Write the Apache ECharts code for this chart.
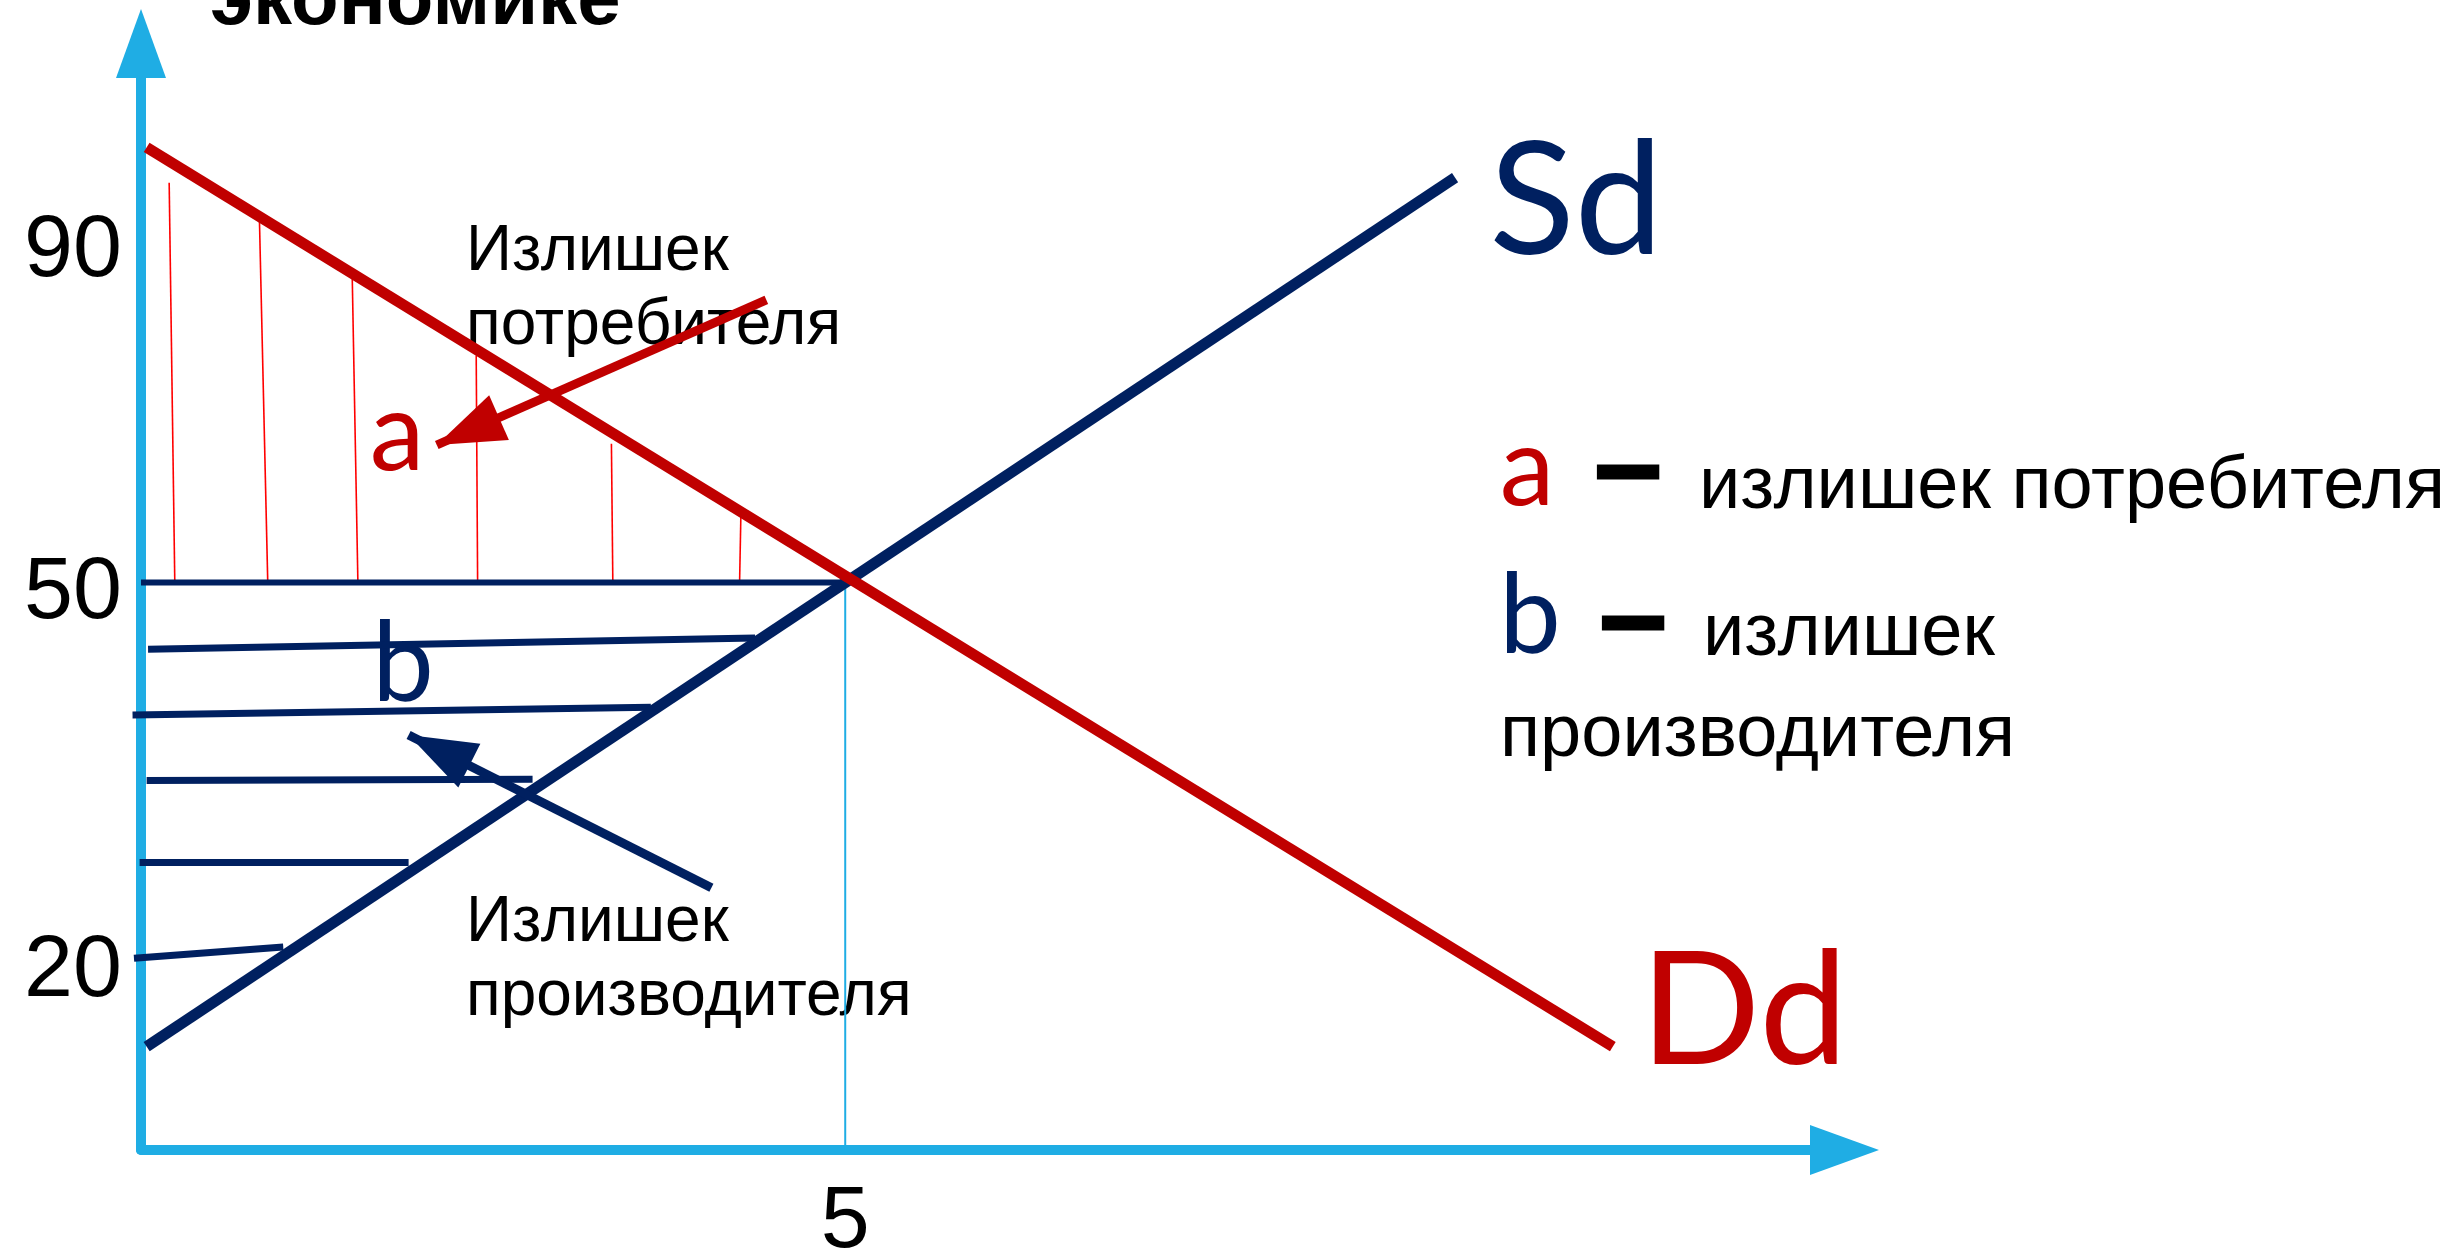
<!DOCTYPE html>
<html lang="ru">
<head>
<meta charset="utf-8">
<title>Излишек потребителя и производителя</title>
<script src="https://cdn.jsdelivr.net/npm/echarts@6/dist/echarts.min.js"></script>
<style>
  html, body { margin: 0; padding: 0; background: #ffffff; }
  #chart { width: 2455px; height: 1256px; }
</style>
</head>
<body>
<div id="chart"></div>
<script>
// values (x = quantity, y = price as drawn)
const xRange = [0, 11.85];
const yRange = [5, 90];
const xTickValues = [5];
const xTickLabels = ['5'];
const yTickValues = [20, 50, 77.1];
const yTickLabels = ['20', '50', '90'];

const demandPoints = [[0.04, 84.5], [10.45, 13.2]];
const supplyPoints = [[0.04, 13.2], [9.33, 82.1]];
const equilibrium = [5, 50];

// thin red strokes of the consumer surplus (bottom on the price line, top under the demand line)
const consumerHatchBottom = [[0.24, 50], [0.90, 50], [1.54, 50], [2.39, 50], [3.35, 50], [4.25, 50]];
const consumerHatchTop = [[0.20, 81.7], [0.84, 79.2], [1.50, 74.1], [2.38, 68.0], [3.34, 61.0], [4.26, 55.8]];

// navy strokes of the producer surplus
const producerHatchLeft = [[0.05, 44.7], [-0.06, 39.5], [0.04, 34.3], [-0.01, 27.8], [-0.05, 20.2]];
const producerHatchRight = [[4.36, 45.6], [3.62, 40.1], [2.78, 34.4], [1.90, 27.8], [1.01, 21.1]];

// pointer arrows: [start, tip]
const consumerArrow = [[4.44, 72.4], [2.10, 60.9]];
const producerArrow = [[4.05, 25.8], [1.90, 37.9]];

const RED = '#C00000';
const NAVY = '#002060';
const AXIS = '#1FADE4';
const HATCH_RED = '#FF0000';
const ARROW_SIZE = [49, 68];

const chart = echarts.init(document.getElementById('chart'));

const axisArrow = {
  show: true,
  onZero: false,
  symbol: ['none', 'triangle'],
  symbolSize: [50, 69],
  symbolOffset: [0, 34.5],
  lineStyle: { color: AXIS, width: 10 }
};

// arrow drawn as a markLine; the head sits with its tip on the end point
const pointer = (points, color) => ({
  type: 'line',
  data: [],
  silent: true,
  markLine: {
    silent: true,
    animation: false,
    symbol: ['none', 'triangle'],
    symbolSize: ARROW_SIZE,
    label: { show: false },
    lineStyle: { color: color, width: 9, type: 'solid' },
    itemStyle: { color: color },
    data: [[
      { coord: points[0] },
      { coord: points[1], symbolOffset: [0, ARROW_SIZE[1] / 2] }
    ]]
  },
  z: 6
});

const option = {
  animation: false,
  backgroundColor: '#ffffff',
  grid: { left: 141, right: 645, top: 78, bottom: 106, containLabel: false, outerBoundsMode: 'none' },
  xAxis: {
    type: 'value',
    min: xRange[0],
    max: xRange[1],
    axisLine: axisArrow,
    axisTick: { show: false },
    splitLine: { show: false },
    axisLabel: {
      customValues: xTickValues,
      formatter: (v) => xTickLabels[xTickValues.indexOf(v)] || '',
      margin: 29,
      fontSize: 88,
      fontFamily: 'Liberation Sans',
      color: '#000000'
    }
  },
  yAxis: {
    type: 'value',
    min: yRange[0],
    max: yRange[1],
    axisLine: axisArrow,
    axisTick: { show: false },
    splitLine: { show: false },
    axisLabel: {
      customValues: yTickValues,
      formatter: (v) => yTickLabels[yTickValues.indexOf(v)] || '',
      margin: 19,
      verticalAlign: 'top',
      lineHeight: 22,
      fontSize: 88,
      fontFamily: 'Liberation Sans',
      color: '#000000'
    }
  },
  series: [
    {
      type: 'lines',
      coordinateSystem: 'cartesian2d',
      clip: false,
      silent: true,
      lineStyle: { color: HATCH_RED, width: 1.6, opacity: 1, curveness: 0 },
      data: consumerHatchBottom.map((p, i) => ({ coords: [p, consumerHatchTop[i]] })),
      z: 2
    },
    {
      type: 'lines',
      coordinateSystem: 'cartesian2d',
      clip: false,
      silent: true,
      lineStyle: { color: NAVY, width: 7, opacity: 1, curveness: 0 },
      data: producerHatchLeft.map((p, i) => ({ coords: [p, producerHatchRight[i]] })),
      z: 2
    },
    {
      type: 'line',
      data: [[xRange[0], equilibrium[1]], equilibrium],
      symbol: 'none',
      silent: true,
      lineStyle: { color: NAVY, width: 6 },
      z: 3
    },
    {
      type: 'line',
      data: [[equilibrium[0], yRange[0]], equilibrium],
      symbol: 'none',
      silent: true,
      lineStyle: { color: AXIS, width: 2 },
      z: 3
    },
    {
      name: 'Sd',
      type: 'line',
      data: supplyPoints,
      symbol: 'none',
      silent: true,
      lineStyle: { color: NAVY, width: 11 },
      z: 4
    },
    {
      name: 'Dd',
      type: 'line',
      data: demandPoints,
      symbol: 'none',
      silent: true,
      lineStyle: { color: RED, width: 11 },
      z: 5
    },
    pointer(consumerArrow, RED),
    pointer(producerArrow, NAVY)
  ],
  graphic: {
    elements: [
      { type: 'text', x: 210, y: 2, silent: true,
        style: { text: 'экономике', fill: '#000', font: 'bold 78px "Liberation Sans"', textVerticalAlign: 'middle' } },
      { type: 'text', x: 1576, y: 203, silent: true,
        style: { text: 'Sd', fill: NAVY, font: '158px Lato', textAlign: 'center', textVerticalAlign: 'middle' } },
      { type: 'text', x: 1744, y: 1013, silent: true,
        style: { text: 'Dd', fill: RED, font: '158px Lato', textAlign: 'center', textVerticalAlign: 'middle' } },
      { type: 'text', x: 466, y: 289, silent: true,
        style: { text: 'Излишек\nпотребителя', fill: '#000', font: '64px "Liberation Sans"', lineHeight: 74, textVerticalAlign: 'middle' } },
      { type: 'text', x: 466, y: 960, silent: true,
        style: { text: 'Излишек\nпроизводителя', fill: '#000', font: '64px "Liberation Sans"', lineHeight: 74, textVerticalAlign: 'middle' } },
      { type: 'text', x: 397, y: 435, silent: true,
        style: { text: 'a', fill: RED, font: '110px Lato', textAlign: 'center', textVerticalAlign: 'middle' } },
      { type: 'text', x: 403, y: 665, silent: true,
        style: { text: 'b', fill: NAVY, font: '110px Lato', textAlign: 'center', textVerticalAlign: 'middle' } },
      // key on the right
      { type: 'text', x: 1527, y: 470, silent: true,
        style: { text: 'a', fill: RED, font: '110px Lato', textAlign: 'center', textVerticalAlign: 'middle' } },
      { type: 'text', x: 1628, y: 471, silent: true,
        style: { text: '–', fill: '#000', stroke: '#000', lineWidth: 3, font: 'bold 120px "Liberation Sans"', textAlign: 'center', textVerticalAlign: 'middle' } },
      { type: 'text', x: 1699, y: 488, silent: true,
        style: { text: 'излишек потребителя', fill: '#000', font: '74px "Liberation Sans"', textVerticalAlign: 'middle' } },
      { type: 'text', x: 1530, y: 617, silent: true,
        style: { text: 'b', fill: NAVY, font: '110px Lato', textAlign: 'center', textVerticalAlign: 'middle' } },
      { type: 'text', x: 1633, y: 622, silent: true,
        style: { text: '–', fill: '#000', stroke: '#000', lineWidth: 3, font: 'bold 120px "Liberation Sans"', textAlign: 'center', textVerticalAlign: 'middle' } },
      { type: 'text', x: 1703, y: 635, silent: true,
        style: { text: 'излишек', fill: '#000', font: '74px "Liberation Sans"', textVerticalAlign: 'middle' } },
      { type: 'text', x: 1500, y: 736, silent: true,
        style: { text: 'производителя', fill: '#000', font: '74px "Liberation Sans"', textVerticalAlign: 'middle' } }
    ]
  }
};

chart.setOption(option);
</script>
</body>
</html>
